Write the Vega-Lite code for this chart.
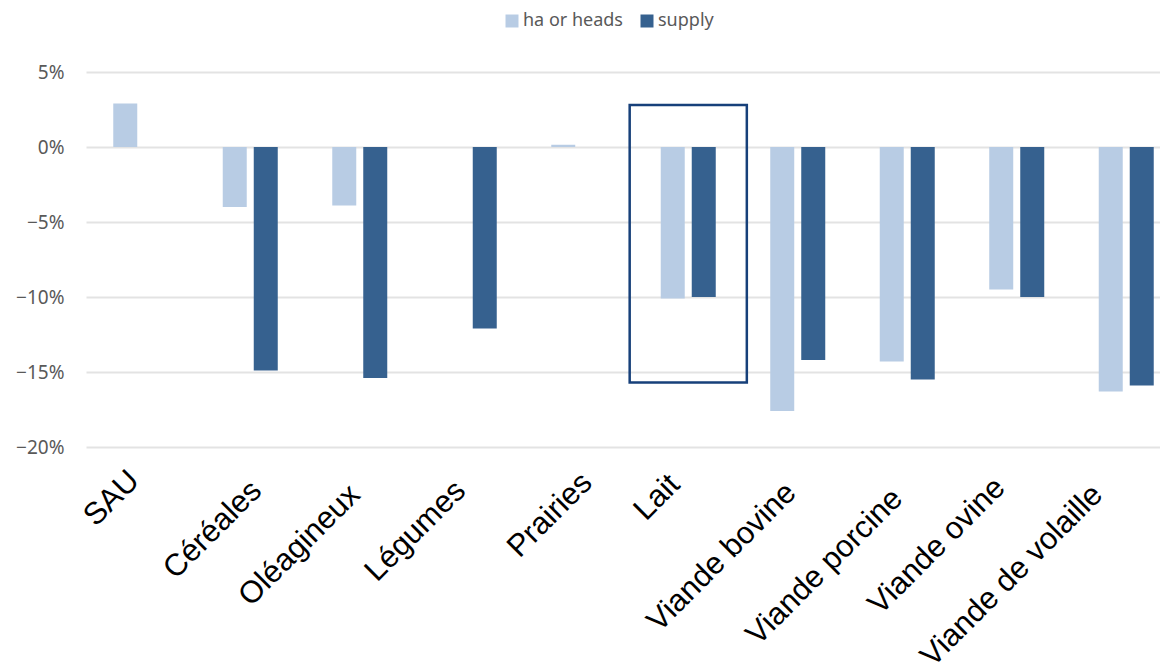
{
  "$schema": "https://vega.github.io/schema/vega-lite/v6.json",
  "width": 1074,
  "height": 375,
  "autosize": {"type": "none"},
  "padding": {"left": 86, "top": 72, "right": 0, "bottom": 217},
  "background": "white",
  "config": {"view": {"stroke": null}},
  "datasets": {
    "bars": [
      {"category": "SAU", "series": "ha or heads", "value": 0.029},
      {"category": "Céréales", "series": "ha or heads", "value": -0.040},
      {"category": "Céréales", "series": "supply", "value": -0.149},
      {"category": "Oléagineux", "series": "ha or heads", "value": -0.039},
      {"category": "Oléagineux", "series": "supply", "value": -0.154},
      {"category": "Légumes", "series": "ha or heads", "value": 0.0},
      {"category": "Légumes", "series": "supply", "value": -0.121},
      {"category": "Prairies", "series": "ha or heads", "value": 0.0015},
      {"category": "Lait", "series": "ha or heads", "value": -0.101},
      {"category": "Lait", "series": "supply", "value": -0.100},
      {"category": "Viande bovine", "series": "ha or heads", "value": -0.176},
      {"category": "Viande bovine", "series": "supply", "value": -0.142},
      {"category": "Viande porcine", "series": "ha or heads", "value": -0.143},
      {"category": "Viande porcine", "series": "supply", "value": -0.155},
      {"category": "Viande ovine", "series": "ha or heads", "value": -0.095},
      {"category": "Viande ovine", "series": "supply", "value": -0.100},
      {"category": "Viande de volaille", "series": "ha or heads", "value": -0.163},
      {"category": "Viande de volaille", "series": "supply", "value": -0.159}
    ],
    "box": [
      {"category": "Lait", "top": 0.028, "bottom": -0.157}
    ]
  },
  "layer": [
    {
      "data": {"name": "bars"},
      "mark": {"type": "bar"},
      "encoding": {
        "x": {
          "field": "category",
          "type": "nominal",
          "sort": ["SAU", "Céréales", "Oléagineux", "Légumes", "Prairies", "Lait", "Viande bovine", "Viande porcine", "Viande ovine", "Viande de volaille"],
          "scale": {"range": [0, 1095], "paddingInner": 0.4977, "paddingOuter": 0.2489},
          "axis": {
            "title": null,
            "domain": false,
            "ticks": false,
            "grid": false,
            "labelAngle": -45,
            "labelFont": "Liberation Sans",
            "labelFontSize": 31,
            "labelColor": "#000000",
            "labelPadding": {"expr": "24 + [-6, 4, 8, 4, -4, -2, 6, 12, 1, 8][indexof(['SAU', 'Céréales', 'Oléagineux', 'Légumes', 'Prairies', 'Lait', 'Viande bovine', 'Viande porcine', 'Viande ovine', 'Viande de volaille'], datum.value)]"},
            "labelOffset": {"expr": "-17 + [0, 13, 2, -2, 15, -7, 0, -3, -10, -22][indexof(['SAU', 'Céréales', 'Oléagineux', 'Légumes', 'Prairies', 'Lait', 'Viande bovine', 'Viande porcine', 'Viande ovine', 'Viande de volaille'], datum.value)]"},
            "labelLimit": 0
          }
        },
        "xOffset": {
          "field": "series",
          "sort": ["ha or heads", "supply"],
          "scale": {"paddingInner": 0.2258, "paddingOuter": 0}
        },
        "y": {
          "field": "value",
          "type": "quantitative",
          "scale": {"domain": [-0.2, 0.05], "nice": false, "zero": true},
          "axis": {
            "title": null,
            "format": ".0%",
            "values": [-0.2, -0.15, -0.1, -0.05, 0, 0.05],
            "domain": false,
            "ticks": false,
            "grid": true,
            "gridColor": "#e3e3e3",
            "gridWidth": 2,
            "labelFont": "Noto Sans",
            "labelFontSize": 19,
            "labelColor": "#595959",
            "labelPadding": 22
          }
        },
        "color": {
          "field": "series",
          "type": "nominal",
          "scale": {"domain": ["ha or heads", "supply"], "range": ["#b8cce4", "#36618f"]},
          "legend": {
            "title": null,
            "orient": "none",
            "legendX": 417,
            "legendY": -60,
            "direction": "horizontal",
            "symbolType": "square",
            "symbolSize": 169,
            "symbolStrokeWidth": 0,
            "labelFont": "Noto Sans",
            "labelFontSize": 18,
            "labelColor": "#595959",
            "labelOffset": 2,
            "columnPadding": 15
          }
        }
      }
    },
    {
      "data": {"name": "box"},
      "mark": {"type": "bar", "fill": "transparent", "stroke": "#17407a", "strokeWidth": 2.5, "width": {"band": 2.13}},
      "encoding": {
        "x": {"field": "category", "type": "nominal", "sort": ["SAU", "Céréales", "Oléagineux", "Légumes", "Prairies", "Lait", "Viande bovine", "Viande porcine", "Viande ovine", "Viande de volaille"]},
        "y": {"field": "top", "type": "quantitative"},
        "y2": {"field": "bottom"}
      }
    }
  ]
}
